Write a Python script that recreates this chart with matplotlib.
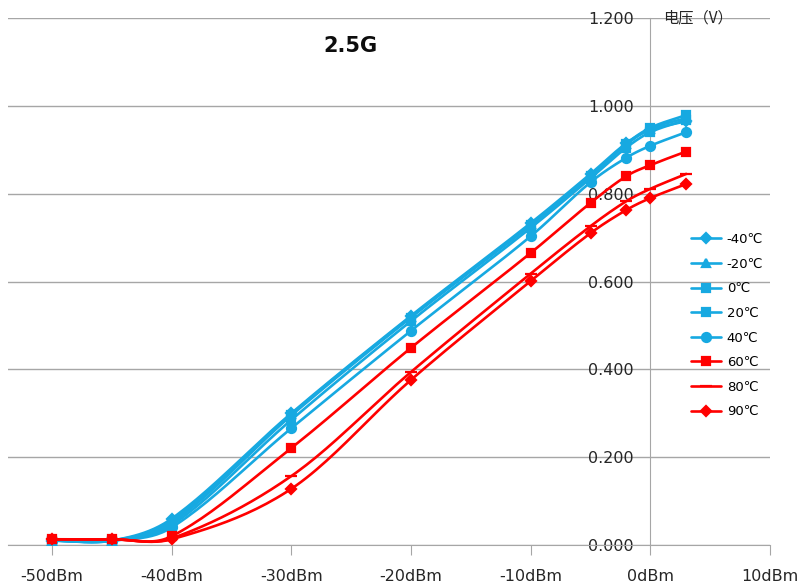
import numpy as np
import matplotlib
matplotlib.use('Agg')
import matplotlib.pyplot as plt
from matplotlib.ticker import FormatStrFormatter

plt.rcParams['font.family'] = ['DejaVu Sans', 'Noto Sans CJK SC']

# input power (dBm)
potencia = [-50, -45, -40, -30, -20, -10, -5, -2, 0, 3]

temperaturas = ['-40℃', '-20℃', '0℃', '20℃', '40℃', '60℃', '80℃', '90℃']

# output voltage (V) per temperature
v_m40 = [0.010, 0.010, 0.060, 0.300, 0.522, 0.733, 0.845, 0.915, 0.945, 0.965]
v_m20 = [0.010, 0.010, 0.055, 0.298, 0.520, 0.730, 0.842, 0.912, 0.948, 0.972]
v_0 = [0.010, 0.010, 0.050, 0.295, 0.518, 0.728, 0.840, 0.914, 0.950, 0.979]
v_20 = [0.010, 0.010, 0.045, 0.285, 0.510, 0.722, 0.835, 0.905, 0.940, 0.968]
v_40 = [0.010, 0.010, 0.040, 0.266, 0.488, 0.703, 0.826, 0.882, 0.909, 0.940]
v_60 = [0.013, 0.013, 0.020, 0.221, 0.449, 0.665, 0.779, 0.840, 0.865, 0.896]
v_80 = [0.013, 0.013, 0.015, 0.157, 0.394, 0.618, 0.726, 0.783, 0.811, 0.845]
v_90 = [0.013, 0.013, 0.013, 0.128, 0.376, 0.601, 0.710, 0.763, 0.790, 0.822]

series = [v_m40, v_m20, v_0, v_20, v_40, v_60, v_80, v_90]
marcadores = ['D', '^', 's', 's', 'o', 's', '_', 'D']
tamanhos = [5, 6, 6, 6, 6.5, 6, 8, 5]
azul = '#17A9E1'
vermelho = '#FF0000'
cores = [azul] * 5 + [vermelho] * 3

N = 24  # samples per segment for the smoothed line


def suavizar(xs, ys, n=N):
    """Smoothed line through the points (Bezier, Catmull-Rom style tangents)."""
    p = np.column_stack([xs, ys]).astype(float)
    out = []
    for i in range(len(p) - 1):
        p0 = p[i - 1] if i > 0 else p[i]
        p1, p2 = p[i], p[i + 1]
        p3 = p[i + 2] if i + 2 < len(p) else p[i + 1]
        dx = p2[0] - p1[0]
        c1 = p1 + (p2 - p0) * dx / (p2[0] - p0[0]) / 3
        c2 = p2 - (p3 - p1) * dx / (p3[0] - p1[0]) / 3
        t = np.linspace(0, 1, n, endpoint=False)[:, None]
        seg = ((1 - t) ** 3) * p1 + 3 * ((1 - t) ** 2) * t * c1 + 3 * (1 - t) * t ** 2 * c2 + t ** 3 * p2
        out.append(seg)
    out.append(p[-1:])
    curva = np.vstack(out)
    return curva[:, 0], curva[:, 1]


fig = plt.figure(figsize=(8.05, 5.87), dpi=100)
ax = fig.add_axes([8 / 805, 1 - 545 / 587, (770 - 8) / 805, (545 - 18) / 587])

cinza = '#A6A6A6'
for i, (ys, nome) in enumerate(zip(series, temperaturas)):
    cx, cy = suavizar(potencia, ys)
    ax.plot(cx, cy, color=cores[i], lw=1.9, marker=marcadores[i], ms=tamanhos[i],
            markevery=[k * N for k in range(len(potencia))], mew=1.6,
            label=nome, zorder=3, solid_capstyle='round')

ax.set_xlim(-53.68, 10)
ax.set_ylim(0, 1.2)
ax.set_xticks([-50, -40, -30, -20, -10, 0, 10])
ax.set_xticklabels(['-50dBm', '-40dBm', '-30dBm', '-20dBm', '-10dBm', '0dBm', '10dBm'])
ax.set_yticks(np.arange(0, 1.21, 0.2))
ax.yaxis.set_major_formatter(FormatStrFormatter('%.3f'))

ax.spines['top'].set_visible(False)
ax.spines['right'].set_visible(False)
ax.spines['left'].set_position(('data', 0))
ax.spines['left'].set_color(cinza)
ax.spines['bottom'].set_color(cinza)
ax.grid(axis='y', color=cinza, lw=1.0)
ax.set_axisbelow(True)
ax.tick_params(axis='x', length=7, color=cinza, labelsize=11.5, pad=10, labelcolor='#262626')
ax.tick_params(axis='y', length=0, labelsize=11.5, pad=12, labelcolor='#262626')

ax.text(1.1, 1.2, '电压（V）', ha='left', va='center', fontsize=11, color='#262626',
        family=['Noto Sans CJK SC', 'DejaVu Sans'])
fig.text(350 / 805, 1 - 46 / 587, '2.5G', ha='center', va='center', fontsize=15,
         fontweight='bold', color='#0D0D0D')

ax.legend(loc='upper left', bbox_to_anchor=(691 / 805, 1 - 233 / 587),
          bbox_transform=fig.transFigure, frameon=False, fontsize=9.5,
          handlelength=2.3, handletextpad=0.4, labelspacing=0.88,
          borderpad=0, borderaxespad=0)

fig.savefig('out.png', dpi=100)
